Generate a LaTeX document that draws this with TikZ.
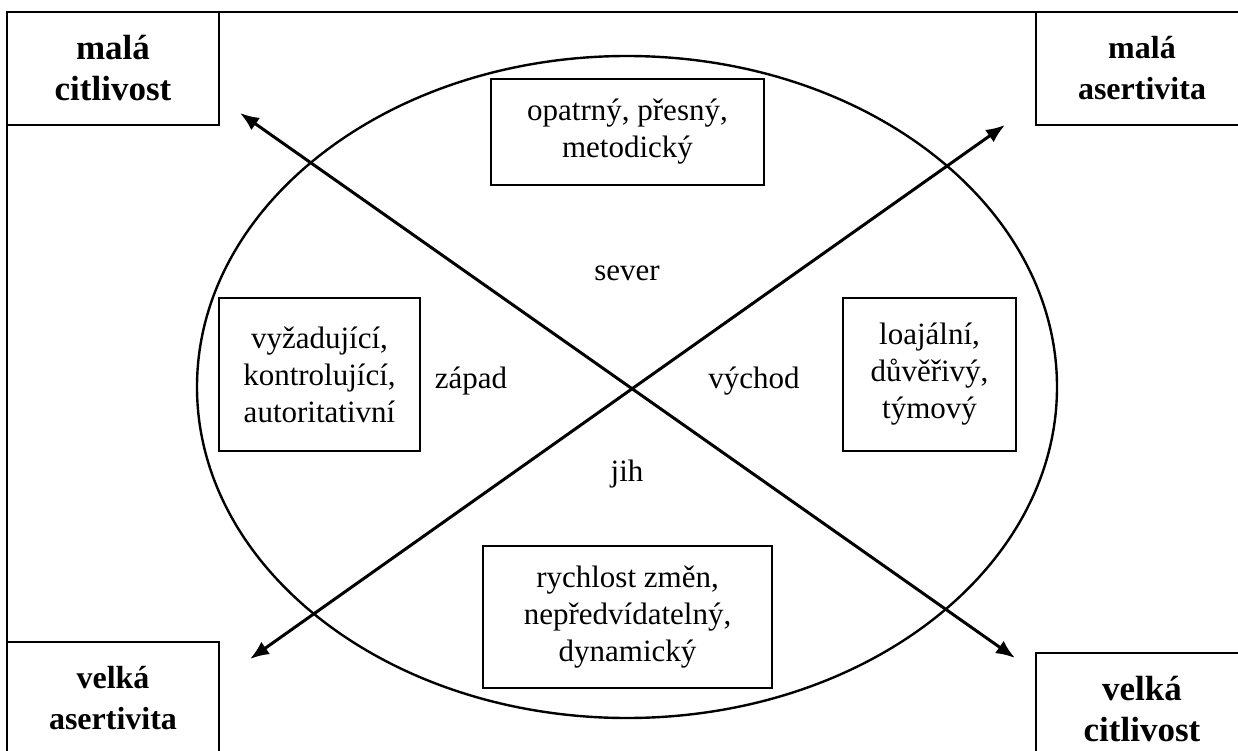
\documentclass[tikz,border=0pt]{standalone}
\usepackage{fontspec}
\setmainfont{Liberation Serif}
\usetikzlibrary{arrows.meta}

\begin{document}
\begin{tikzpicture}[x=1pt,y=-1pt]

 \tikzset{
    box/.style={
      draw,
      line width=2pt,
      align=center,
      inner sep=0mm,
      outer sep=0mm,
      font=\fontsize{31}{37}\selectfont
    },
    corner/.style={
      box,
      minimum width=212pt,
      minimum height=113pt,
      font=\fontsize{32}{41}\selectfont\bfseries
    },
    wide corner/.style={
      corner,
      font=\fontsize{35}{41}\selectfont\bfseries
    },
    word/.style={
      inner sep=0mm,
      font=\fontsize{31}{37}\selectfont
    },
    axis/.style={
      line width=3pt,
      {Latex[length=19pt,width=15pt]}-{Latex[length=19pt,width=15pt]}
    }
  }

\path[use as bounding box, clip] (0,0) rectangle (1238,751);

% corner boxes
\node[wide corner] (tl) at (113,68.5) {malá\\citlivost};
\node[corner] (tr) at (1142,68.5) {malá\\asertivita};
\node[corner] (bl) at (113,698.5) {velká\\asertivita};
\node[wide corner] (br) at (1142,709.5) {velká\\citlivost};

% frame
\draw[line width=2pt] (tl.south west) -- (bl.north west);
\draw[line width=2pt] (tl.north east) -- (tr.north west);

% ellipse
\draw[line width=2.4pt] (627,387) ellipse [x radius=430, y radius=331];

% inner boxes
\node[box, minimum width=273pt, minimum height=106pt] (north) at (627.5,132) {opatrný, přesný,\\metodický};
\node[box, minimum width=201pt, minimum height=153pt] (west) at (319.5,374.5) {vyžadující,\\kontrolující,\\autoritativní};
\node[box, minimum width=173pt, minimum height=153pt] (east) at (929.5,374.5) {loajální,\\důvěřivý,\\týmový};
\node[box, minimum width=289pt, minimum height=142pt] (south) at (627.5,617) {rychlost změn,\\nepředvídatelný,\\dynamický};

% directions
\node[word] (sever) at (627,273) {sever};
\node[word] (zapad) at (471,381) {západ};
\node[word] (vychod) at (754,381) {východ};
\node[word] (jih) at (627,474) {jih};

% arrows
\coordinate (a1) at (240,113);
\coordinate (a2) at (1015,658);
\coordinate (b1) at (250,659);
\coordinate (b2) at (1005,125);
\draw[axis] (a1) -- (a2);
\draw[axis] (b1) -- (b2);

\end{tikzpicture}
\end{document}
